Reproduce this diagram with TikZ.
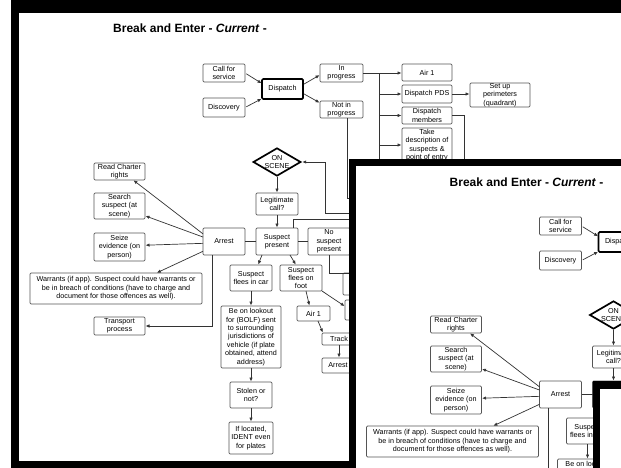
\documentclass[tikz,border=0pt]{standalone}
\usepackage{fontspec}
\setmainfont{Liberation Sans}
\usetikzlibrary{arrows.meta,shapes.geometric}
\definecolor{bordergray}{HTML}{555555}
\definecolor{linegray}{HTML}{333333}
\tikzset{
  box/.style={draw=bordergray, line width=0.7pt, rounded corners=1.2pt, fill=white,
    inner sep=0pt, outer sep=0pt, align=center, font=\fontsize{7.2}{8.4}\selectfont, text=black},
  thickbox/.style={draw=black, line width=1.7pt},
  conn/.style={draw=linegray, line width=0.7pt},
  arr/.style={conn, -{Latex[length=4pt,width=3.4pt]}, shorten >=0.5pt},
  titletext/.style={font=\fontsize{12}{14}\selectfont\bfseries, anchor=base west, inner sep=0pt}
}
\newcommand\bebox[7][]{%
  \node[box,#1,minimum width={#5-#3},minimum height={#6-#4}] (#2) at ({(#3+#5)/2},{(#4+#6)/2}) {#7};}
\newcommand\bediagram{%
  \node[titletext] (title) at (113,33) {Break and Enter - \textit{Current} -};
  \bebox{call}{203}{64}{245}{82}{Call for\\service}
  \bebox{disc}{203}{98}{245}{117}{Discovery}
  \bebox[thickbox]{dispatch}{262}{79}{303}{99}{Dispatch}
  \bebox{inprog}{320}{64}{363}{82}{In\\progress}
  \bebox{notinprog}{320}{101}{363}{118}{Not in\\progress}
  \bebox{air}{402}{64}{452}{81}{Air 1}
  \bebox{pds}{402}{85}{452}{103}{Dispatch PDS}
  \bebox{perim}{470}{83}{530}{107}{Set up\\perimeters\\(quadrant)}
  \bebox{members}{402}{107}{452}{124}{Dispatch\\members}
  \bebox{takedesc}{402}{128}{452}{162}{Take\\description of\\suspects \&\\point of entry}
  \node[diamond, draw=black, line width=1.7pt, aspect=1.7, inner sep=0pt, fill=white,
        align=center, font=\fontsize{7.2}{8.4}\selectfont] (onscene) at (277,162) {ON\\SCENE};
  \bebox{legit}{256}{193}{298}{215}{Legitimate\\call?}
  \bebox{suspect}{256}{228}{298}{255}{Suspect\\present}
  \bebox{nosuspect}{308}{228}{350}{255}{No\\suspect\\present}
  \bebox{arrest}{203}{228}{245}{255}{Arrest}
  \bebox{charter}{94}{163}{145}{180}{Read Charter\\rights}
  \bebox{search}{94}{193}{145}{219}{Search\\suspect (at\\scene)}
  \bebox{seize}{94}{233}{145}{261}{Seize\\evidence (on\\person)}
  \bebox{warrants}{30}{273}{202}{304}{Warrants (if app). Suspect could have warrants or\\be in breach of conditions (have to charge and\\document for those offences as well).}
  \bebox{transport}{94}{317}{145}{335}{Transport\\process}
  \bebox{fleescar}{230}{265}{272}{291}{Suspect\\flees in car}
  \bebox{fleesfoot}{280}{265}{322}{291}{Suspect\\flees on\\foot}
  \bebox{bolf}{221}{306}{281}{368}{Be on lookout\\for (BOLF) sent\\to surrounding\\jurisdictions of\\vehicle (if plate\\obtained, attend\\address)}
  \bebox{stolen}{230}{382}{272}{408}{Stolen or\\not?}
  \bebox{located}{229}{422}{273}{454}{If located,\\IDENT even\\for plates}
  \bebox{airb}{297}{306}{330}{321}{Air 1}
  \bebox{track}{322}{333}{356}{345}{Track}
  \bebox{arrestb}{322}{358}{354}{373}{Arrest}
  \bebox{pa}{343}{273}{365}{295}{}
  \bebox{pb}{345}{300}{365}{320}{}
  % free ends
  \coordinate (bus) at (379,73);
  \coordinate (busend) at (379,175);
  \coordinate (memend) at (464,175);
  \coordinate (nipend) at (352,198);
  \coordinate (nipturn) at (347,198);
  \coordinate (scenein) at (352,213);
  \coordinate (scenejoin) at (325,213);
  \coordinate (spend) at (352,219);
  \coordinate (nsend) at (352,273);
  % connectors
  \draw[arr,shorten <=1.5pt] (call.east) -- (dispatch.165);
  \draw[arr,shorten <=1.5pt] (disc.east) -- (dispatch.205);
  \draw[arr,shorten <=1pt] (dispatch.12) -- (inprog.185);
  \draw[arr,shorten <=1pt] (dispatch.-12) -- (notinprog.163);
  \draw[conn] (inprog.east) -- (bus) -- (busend);
  \draw[arr] (bus) -- (air.west |- bus);
  \draw[arr] (pds.west -| bus) -- (pds.west);
  \draw[arr] (members.west -| bus) -- (members.west);
  \draw[arr] (takedesc.west -| bus) -- (takedesc.west);
  \draw[arr] (pds.east) -- (pds.east -| perim.west);
  \draw[conn] (members.east) -| (memend);
  \draw[conn] ([xshift=5.5pt]notinprog.south) -- (nipturn) -- (nipend);
  \draw[arr] (scenein) -- (scenejoin) |- (onscene.east);
  \draw[arr] (onscene.south) -- (legit.north);
  \draw[arr] (legit.south) -- (suspect.north);
  \draw[conn] ([xshift=16pt]suspect.north) |- (spend);
  \draw[conn] (arrest.east) -- (suspect.west);
  \draw[conn] (suspect.east) -- (nosuspect.west);
  \draw[conn] (nosuspect.south) |- (nsend);
  \draw[arr] (arrest.160) -- (charter.328);
  \draw[arr] (arrest.168) -- (search.339);
  \draw[arr] (arrest.185) -- (seize.4);
  \draw[arr] (arrest.205) -- (warrants.21.7);
  \draw[arr] ([xshift=-12pt]arrest.south) |- (transport.east);
  \draw[arr] ([xshift=-15pt]suspect.south) -- ([xshift=7pt]fleescar.north);
  \draw[arr] ([xshift=13pt]suspect.south) -- ([xshift=-5pt]fleesfoot.north);
  \draw[arr] (fleescar.south) -- (bolf.north);
  \draw[arr] (bolf.south) -- (stolen.north);
  \draw[arr] (stolen.south) -- (located.north);
  \draw[arr] ([xshift=5pt]fleesfoot.south) -- ([xshift=-4pt]airb.north);
  \draw[arr] (fleesfoot.south east) -- (pb.160);
  \draw[arr] ([xshift=4.5pt]airb.south) -- ([xshift=1pt]track.north west);
  \draw[arr] (track.south) -- (track.south |- arrestb.north);
}
\begin{document}
\begin{tikzpicture}[x=1pt,y=-1pt]
  \useasboundingbox (0,0) rectangle (621,468);
  \fill[white] (0,0) rectangle (621,468);
  \begin{scope}[name prefix=a-]
    \bediagram
  \end{scope}
  % outer window frame
  \fill[black] (11,0) rectangle (19,468);
  \fill[black] (11,0) rectangle (621,13);
  \fill[black] (11,461) rectangle (356,468);
  % second window
  \fill[black] (349,159) rectangle (621,468);
  \fill[white] (356,166) rectangle (621,468);
  \begin{scope}
    \clip (356,166) rectangle (621,468);
    \begin{scope}[shift={(336.5,153)}, name prefix=b-]
      \bediagram
    \end{scope}
  \end{scope}
  % third window
  \fill[black] (593,381) rectangle (621,468);
  \fill[white] (600,389) rectangle (621,468);
\end{tikzpicture}
\end{document}
